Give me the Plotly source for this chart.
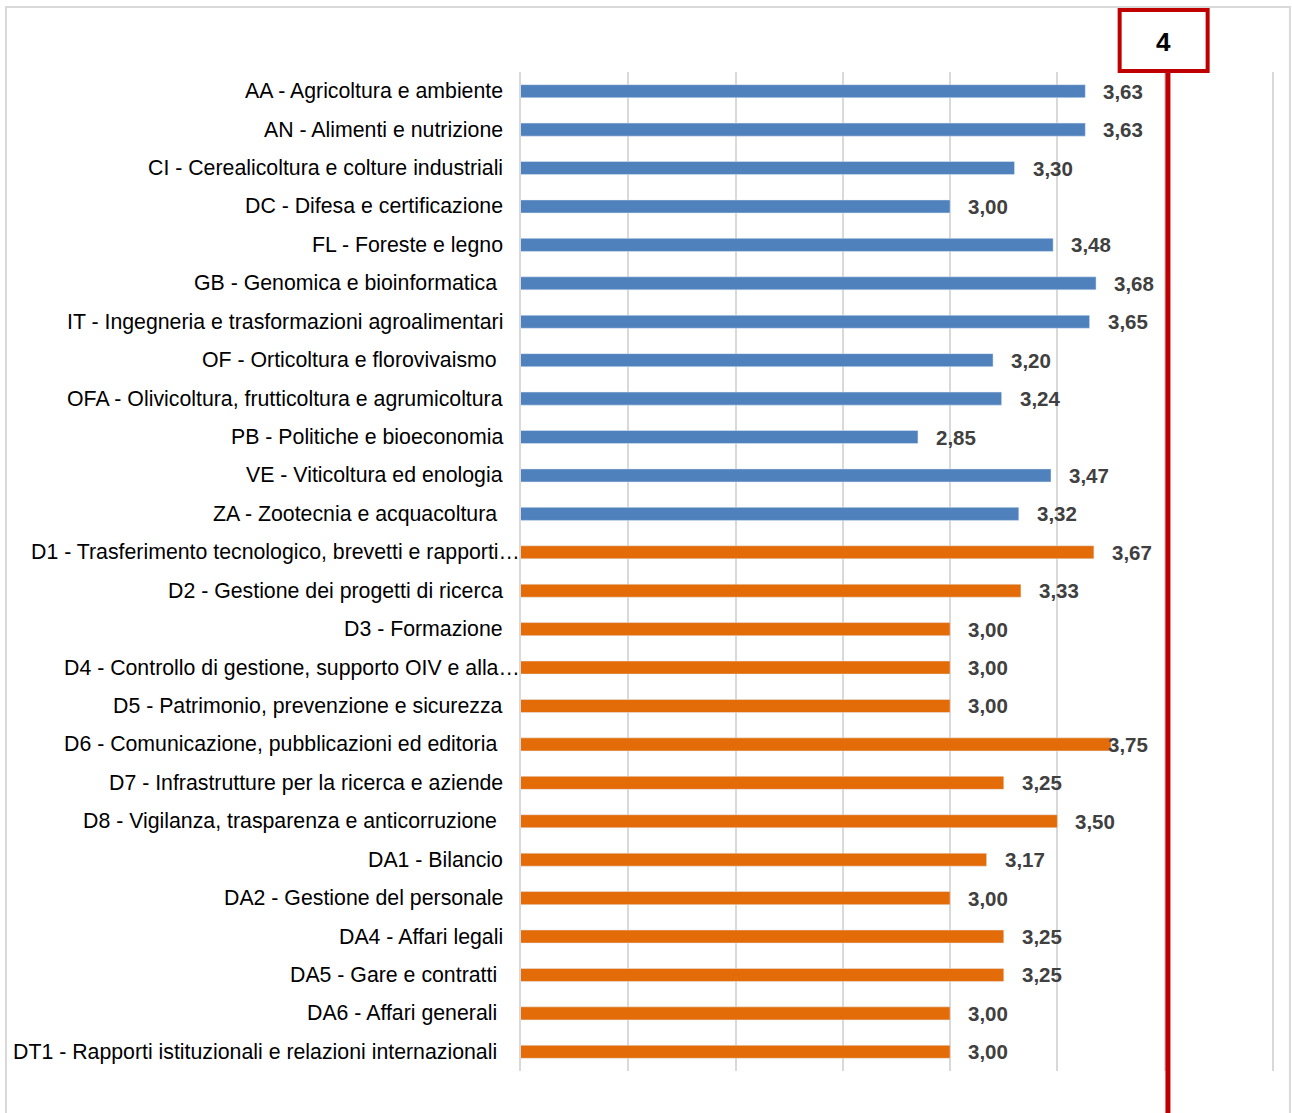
import plotly.graph_objects as go

NB = "\u00a0"
research_labels = [
    "AA - Agricoltura e ambiente",
    "AN - Alimenti e nutrizione",
    "CI - Cerealicoltura e colture industriali",
    "DC - Difesa e certificazione",
    "FL - Foreste e legno",
    "GB - Genomica e bioinformatica" + NB,
    "IT - Ingegneria e trasformazioni agroalimentari",
    "OF - Orticoltura e florovivaismo" + NB,
    "OFA - Olivicoltura, frutticoltura e agrumicoltura",
    "PB - Politiche e bioeconomia",
    "VE - Viticoltura ed enologia",
    "ZA - Zootecnia e acquacoltura" + NB,
]
research_values = [3.63, 3.63, 3.30, 3.00, 3.48, 3.68, 3.65, 3.20, 3.24, 2.85, 3.47, 3.32]

admin_labels = [
    "D1 - Trasferimento tecnologico, brevetti e rapporti…",
    "D2 - Gestione dei progetti di ricerca",
    "D3 - Formazione",
    "D4 - Controllo di gestione, supporto OIV e alla…",
    "D5 - Patrimonio, prevenzione e sicurezza",
    "D6 - Comunicazione, pubblicazioni ed editoria" + NB,
    "D7 - Infrastrutture per la ricerca e aziende",
    "D8 - Vigilanza, trasparenza e anticorruzione" + NB,
    "DA1 - Bilancio",
    "DA2 - Gestione del personale",
    "DA4 - Affari legali",
    "DA5 - Gare e contratti" + NB,
    "DA6 - Affari generali" + NB,
    "DT1 - Rapporti istituzionali e relazioni internazionali" + NB,
]
admin_values = [3.67, 3.33, 3.00, 3.00, 3.00, 3.75, 3.25, 3.50, 3.17, 3.00, 3.25, 3.25, 3.00, 3.00]

target_value = 4
x_min, x_max = 1, 4.5

BLUE = "#4F81BD"
ORANGE = "#E36C09"
RED = "#C00000"
GRID = "#D9D9D9"
FONT = "Liberation Sans, Arial"

all_labels = research_labels + admin_labels
all_values = research_values + admin_values

fig = go.Figure()
fig.add_trace(go.Bar(y=research_labels, x=research_values, orientation="h",
                     marker=dict(color=BLUE), width=0.34, hoverinfo="x+y"))
fig.add_trace(go.Bar(y=admin_labels, x=admin_values, orientation="h",
                     marker=dict(color=ORANGE), width=0.34, hoverinfo="x+y"))

# category labels (truncated ones run up to the axis, as in the original)
for lab in all_labels:
    fig.add_annotation(x=0, y=lab, xref="paper", yref="y", text=lab, showarrow=False,
                       xanchor="right", yanchor="middle",
                       xshift=1 if lab.endswith("…") else -16,
                       font=dict(family=FONT, size=21.3, color="black"))

# value labels
for lab, v in zip(all_labels, all_values):
    shift = 16 if v < 3.7 else -5
    fig.add_annotation(x=v, y=lab, xref="x", yref="y", text=f"{v:.2f}".replace(".", ","),
                       showarrow=False, xanchor="left", yanchor="middle", xshift=shift,
                       font=dict(family=FONT, size=20.5, color="#404040", weight="bold"))

# target line and box
fig.add_shape(type="line", xref="x", yref="paper", x0=target_value + 0.015, x1=target_value + 0.015,
              y0=1.001, y1=-0.045, line=dict(color=RED, width=5), layer="above")
fig.add_shape(type="rect", xref="x", yref="paper", x0=target_value - 0.21, x1=target_value + 0.2,
              y0=1.001, y1=1.062, line=dict(color=RED, width=4), fillcolor="white", layer="above")
fig.add_annotation(x=target_value - 0.005, y=1.030, xref="x", yref="paper", text=f"<b>{target_value}</b>",
                   showarrow=False, xanchor="center", yanchor="middle",
                   font=dict(family=FONT, size=26, color="black"))

# outer border
fig.add_shape(type="rect", xref="paper", yref="paper", x0=-0.6858, x1=1.0239, y0=-0.06, y1=1.065,
              line=dict(color=GRID, width=2), layer="below")

fig.update_layout(
    width=1292, height=1113,
    margin=dict(l=521, r=20, t=72, b=42, autoexpand=False),
    paper_bgcolor="white", plot_bgcolor="white",
    barmode="overlay", showlegend=False,
    font=dict(family=FONT, size=21, color="black"),
)
fig.update_xaxes(range=[x_min, x_max], dtick=0.5, tick0=1, showticklabels=False,
                 showgrid=True, gridcolor=GRID, gridwidth=1.5, zeroline=False, showline=False,
                 automargin=False)
fig.update_yaxes(autorange="reversed", categoryorder="array", categoryarray=all_labels,
                 showgrid=False, ticks="", showticklabels=False, automargin=False,
                 showline=True, mirror=True, linecolor=GRID, linewidth=1.5)

fig.write_html("out.html", config={"displayModeBar": False},
               post_script="document.body.style.margin='0';")
